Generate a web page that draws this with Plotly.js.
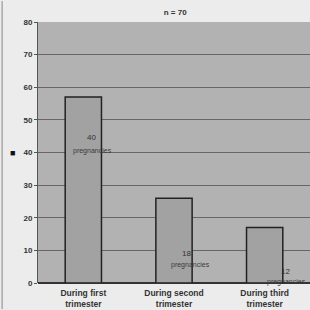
<!DOCTYPE html>
<html>
<head>
<meta charset="utf-8">
<script src="https://cdn.plot.ly/plotly-3.0.1.min.js"></script>
<style>html,body{margin:0;padding:0;background:#ececec;}#chart{width:310px;height:310px;}</style>
</head>
<body>
<div id="chart"></div>
<script>
var categories = ["During first<br>trimester", "During second<br>trimester", "During third<br>trimester"];
var percentValues = [57, 26, 17];
var countLabels = ["40", "18", "12"];
var countWord = "pregnancies";
var yTicks = [0, 10, 20, 30, 40, 50, 60, 70, 80];
var titleText = "n = 70";

// label placement offsets (in category units / data units)
var labelDx = [0.09, 0.14, 0.23];
var numberY = [44.5, 8.9, 3.4];
var wordDx = [0.10, 0.18, 0.24];
var wordY = [40.5, 5.5, 0.3];

var annotations = [];
for (var i = 0; i < categories.length; i++) {
  annotations.push({x: i + labelDx[i], y: numberY[i], xref: 'x', yref: 'y', text: countLabels[i],
    showarrow: false, font: {family: 'Liberation Sans, Arial', size: 8, color: '#333333'}});
  annotations.push({x: i + wordDx[i], y: wordY[i], xref: 'x', yref: 'y', text: countWord,
    showarrow: false, font: {family: 'Liberation Sans, Arial', size: 7, color: '#3a3a3a'}});
}
annotations.push({x: -0.11, y: 40, xref: 'paper', yref: 'y', text: '■', showarrow: false,
  font: {size: 9, color: '#111'}});

var trace = {
  type: 'bar',
  x: [0, 1, 2],
  y: percentValues,
  width: 0.4,
  marker: {color: '#a2a2a2', line: {color: '#222', width: 1.5}},
  hoverinfo: 'none'
};

var layout = {
  width: 310, height: 310,
  margin: {l: 38, r: 0, t: 22, b: 27},
  paper_bgcolor: '#ececec',
  plot_bgcolor: '#b2b2b2',
  showlegend: false,
  title: {text: titleText, x: 0.565, xanchor: 'center', y: 0.962, yanchor: 'middle',
    font: {family: 'Liberation Sans, Arial', size: 8, color: '#333', weight: 'bold'}},
  xaxis: {
    range: [-0.5, 2.5],
    tickvals: [0, 1, 2],
    ticktext: categories,
    showgrid: false,
    zeroline: false,
    showline: false,
    ticks: '',
    ticklabelstandoff: 3,
    tickfont: {family: 'Liberation Sans, Arial', size: 8.5, color: '#333', weight: 'bold'},
    fixedrange: true
  },
  yaxis: {
    range: [0, 80],
    tickvals: yTicks,
    showgrid: true,
    gridcolor: '#666',
    gridwidth: 1,
    zeroline: true,
    zerolinecolor: '#333',
    zerolinewidth: 1.5,
    showline: true,
    linecolor: '#555',
    linewidth: 1,
    ticks: 'outside',
    ticklen: 3,
    tickcolor: '#555',
    tickfont: {family: 'Liberation Sans, Arial', size: 8, color: '#333', weight: 'bold'},
    fixedrange: true
  },
  annotations: annotations,
  shapes: [{type: 'line', xref: 'paper', yref: 'paper', x0: -0.132, x1: -0.132, y0: -0.1, y1: 1.08,
    line: {color: '#888', width: 1}}]
};

Plotly.newPlot('chart', [trace], layout, {displayModeBar: false, staticPlot: true});
</script>
</body>
</html>
